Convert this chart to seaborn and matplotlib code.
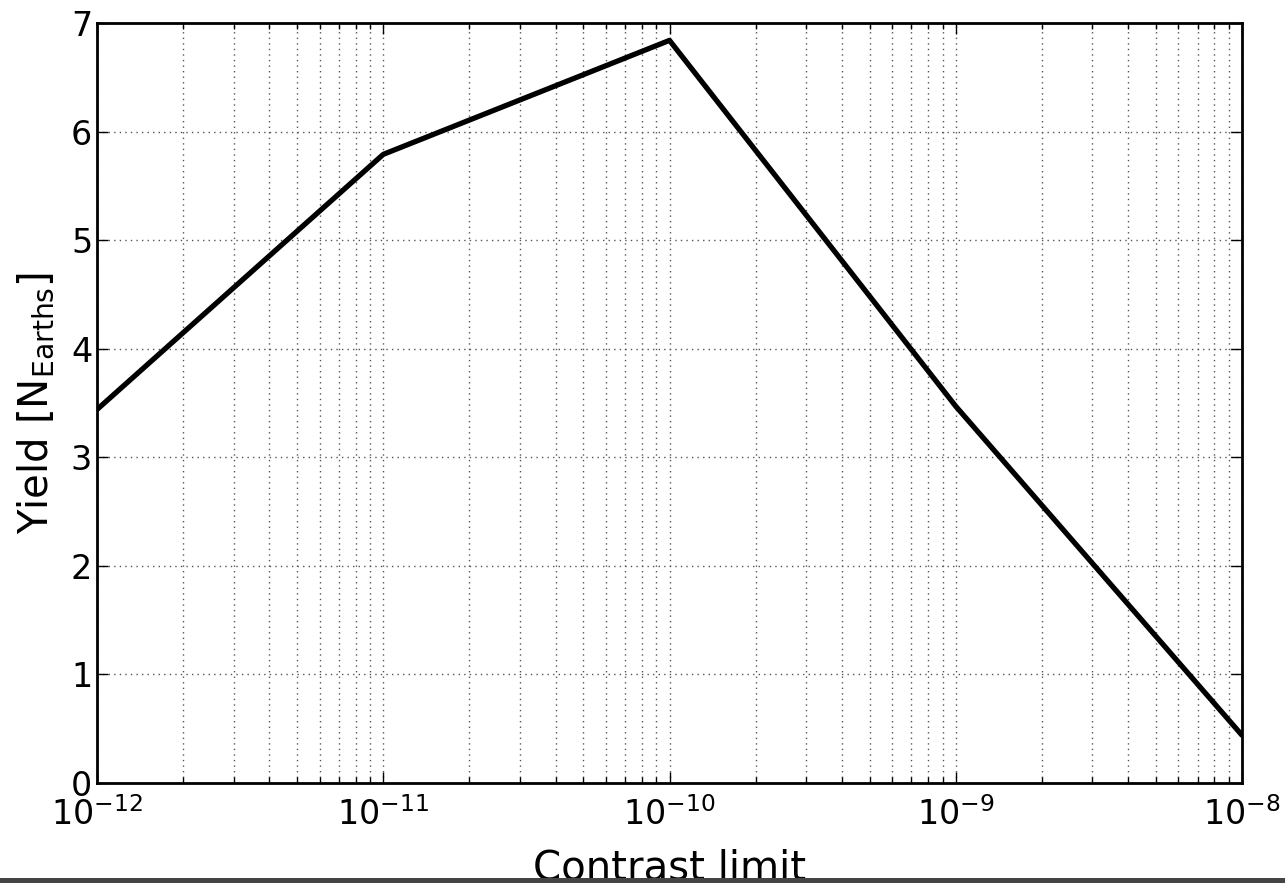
import matplotlib
matplotlib.use("Agg")
import matplotlib.pyplot as plt
import seaborn as sns
import pandas as pd
from matplotlib.patches import Rectangle

# values
contrast = [1e-12, 1e-11, 1e-10, 1e-9, 1e-8]
yield_earths = [3.44, 5.79, 6.84, 3.47, 0.44]

df = pd.DataFrame({"contrast": contrast, "yield": yield_earths})

sns.set_style("ticks")
plt.rcParams['font.family'] = ['DejaVu Sans']
plt.rcParams['text.color'] = 'black'
plt.rcParams['axes.labelcolor'] = 'black'

fig = plt.figure(figsize=(12.85, 8.83), dpi=100)
ax = fig.add_axes([97/1285, 1 - 783/883, (1242-97)/1285, (783-23)/883])

sns.lineplot(ax=ax, data=df, x="contrast", y="yield", color="black", linewidth=3.8)
ax.set_xscale("log")
ax.set_xlim(1e-12, 1e-8)
ax.set_ylim(0, 7)

ax.grid(True, which="major", axis="both", color="#555555", linestyle=(0, (1, 3)), linewidth=1)
ax.grid(True, which="minor", axis="x", color="#555555", linestyle=(0, (1, 3)), linewidth=1)

ax.tick_params(which="both", direction="in", top=True, right=True, labelsize=24,
               colors="black", labelcolor="black")
ax.tick_params(which="major", length=8, width=1)
ax.tick_params(which="minor", length=4, width=1)
ax.tick_params(axis="x", pad=10)
for s in ax.spines.values():
    s.set_linewidth(2)
    s.set_color("black")

ax.set_xlabel("Contrast limit", fontsize=29, labelpad=12, color="black")
ax.set_ylabel(r"Yield [N$_{\mathrm{Earths}}$]", fontsize=29, labelpad=10, color="black")

# dark strip along the bottom edge
fig.patches.append(Rectangle((0, 0), 1, 5/883, transform=fig.transFigure,
                             facecolor="#444444", edgecolor="none", zorder=10))

fig.savefig("out.png", dpi=100)
